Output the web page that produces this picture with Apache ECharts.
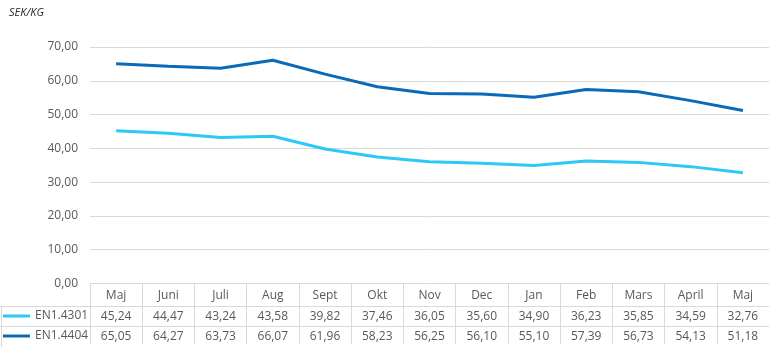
<!DOCTYPE html>
<html>
<head>
<meta charset="utf-8">
<script src="https://cdn.jsdelivr.net/npm/echarts@6/dist/echarts.min.js"></script>
<style>html,body{margin:0;padding:0;background:#fff}#c{width:769px;height:347px}</style>
</head>
<body>
<div id="c"></div>
<script>
const categories = ['Maj','Juni','Juli','Aug','Sept','Okt','Nov','Dec','Jan','Feb','Mars','April','Maj'];
const seriesNames = ['EN1.4301','EN1.4404'];
const en14301 = [45.24,44.47,43.24,43.58,39.82,37.46,36.05,35.60,34.90,36.23,35.85,34.59,32.76];
const en14404 = [65.05,64.27,63.73,66.07,61.96,58.23,56.25,56.10,55.10,57.39,56.73,54.13,51.18];
const unitLabel = 'SEK/KG';

const FONT = '"Open Sans", "Noto Sans", sans-serif';
const fmt = v => v.toFixed(2).replace('.', ',');
const gridC = '#d9d9d9';
const txtC = '#595959';
const colors = ['#2CC8F8', '#0A6AB8'];

const legendBase = {
  orient: 'horizontal', left: 3, padding: 0, itemGap: 6,
  itemWidth: 27, itemHeight: 3, icon: 'rect', selectedMode: false,
  textStyle: {fontSize: 12, color: txtC, fontFamily: FONT}
};

const chart = echarts.init(document.getElementById('c'), null, {renderer: 'canvas'});
chart.setOption({
  animation: false,
  textStyle: {fontFamily: FONT},
  title: {
    text: unitLabel, left: 4, top: 2,
    textStyle: {fontSize: 11, fontStyle: 'italic', fontWeight: 'normal', color: '#262626', fontFamily: FONT}
  },
  grid: {left: 90, right: 0, top: 47, bottom: 61, containLabel: false},
  legend: [
    Object.assign({}, legendBase, {top: 310, data: [seriesNames[0]]}),
    Object.assign({}, legendBase, {top: 330, data: [seriesNames[1]]})
  ],
  xAxis: {
    type: 'category', data: categories, boundaryGap: true,
    axisLine: {show: true, lineStyle: {color: gridC, width: 1}},
    axisTick: {show: true, interval: 0, length: 61, lineStyle: {color: gridC}},
    axisLabel: {
      interval: 0, margin: 2, color: txtC, fontSize: 12, lineHeight: 20.5, fontFamily: FONT,
      formatter: (v, i) => v + '\n' + fmt(en14301[i]) + '\n' + fmt(en14404[i])
    }
  },
  yAxis: {
    type: 'value', min: 0, max: 70, interval: 10,
    axisLine: {show: false}, axisTick: {show: false},
    splitLine: {lineStyle: {color: gridC, width: 1}},
    axisLabel: {color: txtC, fontSize: 12, margin: 12, formatter: v => fmt(v), fontFamily: FONT}
  },
  graphic: [
    {type: 'line', shape: {x1: 0, y1: 306.5, x2: 769, y2: 306.5}, style: {stroke: gridC, lineWidth: 1}, silent: true},
    {type: 'line', shape: {x1: 0, y1: 326.5, x2: 769, y2: 326.5}, style: {stroke: gridC, lineWidth: 1}, silent: true},
    {type: 'line', shape: {x1: 1.5, y1: 306.5, x2: 1.5, y2: 347}, style: {stroke: gridC, lineWidth: 1}, silent: true}
  ],
  series: [
    {name: seriesNames[0], type: 'line', data: en14301, symbol: 'none', color: colors[0],
     lineStyle: {width: 3, color: colors[0]}},
    {name: seriesNames[1], type: 'line', data: en14404, symbol: 'none', color: colors[1],
     lineStyle: {width: 3, color: colors[1]}}
  ]
});
</script>
</body>
</html>
